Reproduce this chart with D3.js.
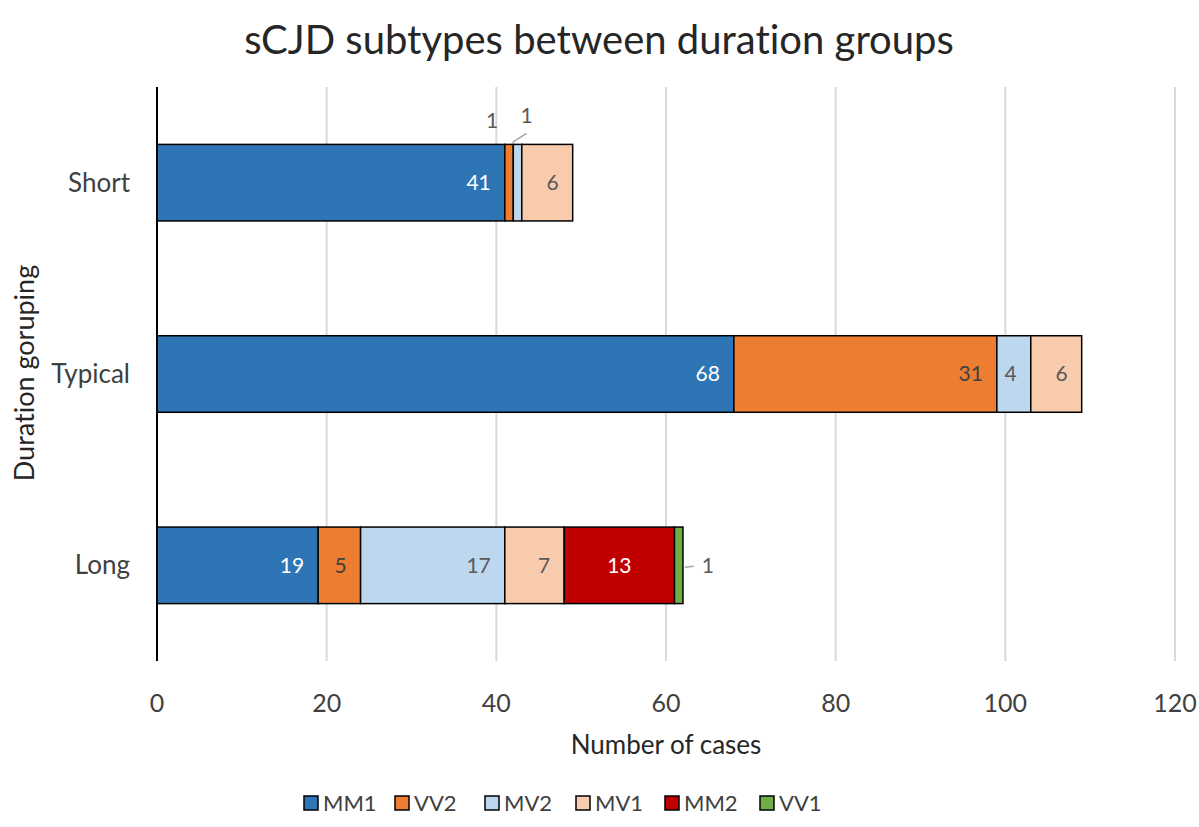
<!DOCTYPE html>
<html>
<head>
<meta charset="utf-8">
<script src="https://cdn.jsdelivr.net/npm/d3@7"></script>
<style>
  body { margin: 0; background: #fff; }
  text { font-family: Lato, "Open Sans", sans-serif; font-variant-ligatures: none; }
</style>
</head>
<body>
<div id="chart"></div>
<script>
(function () {

// Data
const groups = ["Short", "Typical", "Long"];
const subtypes = ["MM1", "VV2", "MV2", "MV1", "MM2", "VV1"];
const counts = {
    Short:   [41, 1, 1, 6, 0, 0],
    Typical: [68, 31, 4, 6, 0, 0],
    Long:    [19, 5, 17, 7, 13, 1]
};
const xTicks = [0, 20, 40, 60, 80, 100, 120];

const colors = ["#2e75b6", "#ed7d31", "#bdd7ee", "#f8cbad", "#c00000", "#70ad47"];
const labelColors = ["#ffffff", "#404040", "#595959", "#595959", "#ffffff", "#595959"];
// label placement per subtype: "end" = inside end, "center"
const labelPlace = ["end", "end", "end", "end", "center", "end"];
// tiny segments labelled outside the bar, with a leader line where Excel drew one
const outsideLabels = [
    { group: "Short", key: "VV2", dx: -17, dy: -24, leader: false },
    { group: "Short", key: "MV2", dx: 9, dy: -29, leader: true },
    { group: "Long", key: "VV1", dx: 29, dy: 0, leader: true, side: true }
];

// Set dimensions and margins
const W = 1199, H = 827;
const margin = { top: 87, right: 24, bottom: 166, left: 157 };
const width = W - margin.left - margin.right;
const height = H - margin.top - margin.bottom;

const svg = d3.select("#chart")
    .append("svg")
    .attr("width", W)
    .attr("height", H);

const g = svg.append("g")
    .attr("transform", `translate(${margin.left}, ${margin.top})`);

// Scales
const x = d3.scaleLinear().domain([0, 120]).range([0, width]);
const y = d3.scaleBand().domain(groups).range([0, height])
    .paddingInner(0.6).paddingOuter(0.3);

// Title
svg.append("text")
    .attr("x", 599)
    .attr("y", 54)
    .attr("text-anchor", "middle")
    .style("font-size", "40px")
    .style("fill", "#262626")
    .text("sCJD subtypes between duration groups");

// Gridlines
g.selectAll(".grid")
    .data(xTicks.filter(d => d > 0))
    .enter()
    .append("line")
    .attr("x1", d => x(d))
    .attr("x2", d => x(d))
    .attr("y1", 0)
    .attr("y2", height)
    .style("stroke", "#d9d9d9")
    .style("stroke-width", 2);

// Stack data
const rows = groups.map(gr => {
    const r = { group: gr };
    subtypes.forEach((s, i) => r[s] = counts[gr][i]);
    return r;
});
const stacked = d3.stack().keys(subtypes)(rows);

const layers = g.selectAll(".layer")
    .data(stacked)
    .enter()
    .append("g")
    .attr("class", "layer")
    .style("fill", (d, i) => colors[i]);

layers.selectAll("rect")
    .data(d => d.filter(s => s[1] - s[0] > 0))
    .enter()
    .append("rect")
    .attr("x", d => x(d[0]))
    .attr("y", d => y(d.data.group))
    .attr("width", d => x(d[1]) - x(d[0]))
    .attr("height", y.bandwidth())
    .style("stroke", "#000")
    .style("stroke-width", 1.5);

// Y axis line
g.append("line")
    .attr("x1", 0).attr("x2", 0)
    .attr("y1", 0).attr("y2", height)
    .style("stroke", "#000")
    .style("stroke-width", 2);

// Data labels
stacked.forEach((layer, i) => {
    layer.forEach(seg => {
        const v = seg[1] - seg[0];
        if (v <= 0) return;
        const gr = seg.data.group;
        const cy = y(gr) + y.bandwidth() / 2;
        const o = outsideLabels.find(o => o.group === gr && o.key === layer.key);
        if (o) {
            const sx = (x(seg[0]) + x(seg[1])) / 2;
            const lx = sx + o.dx, ly = cy + o.dy - (o.side ? 0 : y.bandwidth() / 2);
            if (o.leader) {
                if (o.side) {
                    g.append("line")
                        .attr("x1", x(seg[1]) + 2).attr("y1", cy + 2)
                        .attr("x2", lx - 14).attr("y2", cy + 1)
                        .style("stroke", "#a6a6a6").style("stroke-width", 1.5);
                } else {
                    g.append("line")
                        .attr("x1", sx - 5).attr("y1", y(gr) - 2)
                        .attr("x2", lx).attr("y2", ly + 18)
                        .style("stroke", "#a6a6a6").style("stroke-width", 1.5);
                }
            }
            g.append("text")
                .attr("x", lx)
                .attr("y", ly)
                .attr("dy", "0.35em")
                .attr("text-anchor", "middle")
                .style("font-size", "21px")
                .style("fill", "#595959")
                .text(v);
            return;
        }
        const place = labelPlace[i];
        g.append("text")
            .attr("x", place === "end" ? x(seg[1]) - 14 : (x(seg[0]) + x(seg[1])) / 2)
            .attr("y", cy)
            .attr("dy", "0.35em")
            .attr("text-anchor", place === "end" ? "end" : "middle")
            .style("font-size", "21px")
            .style("fill", labelColors[i])
            .text(v);
    });
});

// Category labels
g.selectAll(".cat")
    .data(groups)
    .enter()
    .append("text")
    .attr("x", -27)
    .attr("y", d => y(d) + y.bandwidth() / 2)
    .attr("dy", "0.35em")
    .attr("text-anchor", "end")
    .style("font-size", "26px")
    .style("fill", "#404040")
    .text(d => d);

// X tick labels
g.selectAll(".xtick")
    .data(xTicks)
    .enter()
    .append("text")
    .attr("x", d => x(d))
    .attr("y", height + 42)
    .attr("dy", "0.35em")
    .attr("text-anchor", "middle")
    .style("font-size", "25px")
    .style("fill", "#404040")
    .text(d => d);

// Axis titles
svg.append("text")
    .attr("x", 666)
    .attr("y", 745)
    .attr("dy", "0.35em")
    .attr("text-anchor", "middle")
    .style("font-size", "26px")
    .style("fill", "#262626")
    .text("Number of cases");

svg.append("text")
    .attr("transform", "translate(25, 373) rotate(-90)")
    .attr("dy", "0.35em")
    .attr("text-anchor", "middle")
    .style("font-size", "27px")
    .style("fill", "#262626")
    .text("Duration goruping");

// Legend
const legendX = [304, 395, 485, 576, 665, 760];
const legend = svg.append("g");
subtypes.forEach((s, i) => {
    legend.append("rect")
        .attr("x", legendX[i])
        .attr("y", 796)
        .attr("width", 14)
        .attr("height", 14)
        .style("fill", colors[i])
        .style("stroke", "#000")
        .style("stroke-width", 1.5);
    legend.append("text")
        .attr("x", legendX[i] + 19)
        .attr("y", 803)
        .attr("dy", "0.35em")
        .style("font-size", "22px")
        .style("fill", "#404040")
        .text(s);
});

})();
</script>
</body>
</html>
